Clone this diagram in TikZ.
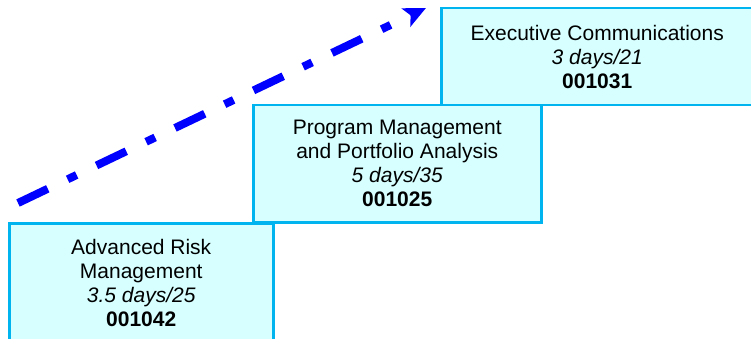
\documentclass[tikz,border=0pt]{standalone}
\usepackage{fontspec}
\setmainfont{Liberation Sans}
\usetikzlibrary{arrows.meta}
\definecolor{boxfill}{RGB}{215,255,255}
\definecolor{boxline}{RGB}{0,180,240}
\definecolor{arrowblue}{RGB}{0,0,255}
\tikzset{
  course/.style={draw=boxline, line width=2.5pt, fill=boxfill, anchor=north west,
    align=center, inner sep=0pt, font=\fontsize{21}{24}\selectfont},
  trend/.style={draw=arrowblue, line width=8pt,
    dash pattern=on 33pt off 22pt on 10pt off 22pt,
    -{Stealth[length=22pt,width=20pt,inset=5pt]}}
}
\begin{document}
\begin{tikzpicture}[x=1pt,y=-1pt]
\useasboundingbox (0,0) rectangle (751,339);
\node[course, minimum width=312pt, minimum height=97pt] (c3) at (440,7)
  {Executive Communications\\ \textit{3 days/21}\\ \textbf{001031}};
\node[course, minimum width=288pt, minimum height=117pt] (c2) at (252,104)
  {Program Management\\ and Portfolio Analysis\\ \textit{5 days/35}\\ \textbf{001025}};
\node[course, minimum width=264pt, minimum height=119pt] (c1) at (8,222)
  {Advanced Risk\\ Management\\ \textit{3.5 days/25}\\ \textbf{001042}};
\coordinate (s) at (18,203);
\coordinate (e) at (426,8);
\draw[trend] (s) -- (e);
\end{tikzpicture}
\end{document}
